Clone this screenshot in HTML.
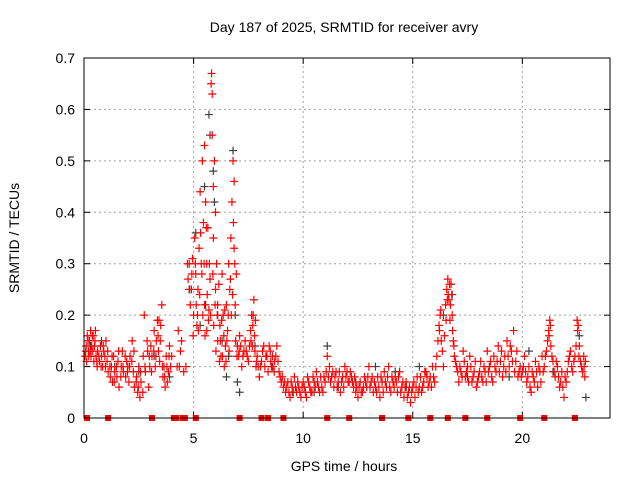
<!DOCTYPE html>
<html><head><meta charset="utf-8"><style>
body{margin:0;background:#fff}
svg{display:block;font-family:"Liberation Sans",sans-serif}
</style></head><body>
<svg id="chart" width="640" height="480" viewBox="0 0 640 480">
<rect width="640" height="480" fill="#fff"/>
<text x="344" y="32" font-size="14" text-anchor="middle">Day 187 of 2025, SRMTID for receiver avry</text>
<text transform="translate(19,238) rotate(-90)" font-size="14" text-anchor="middle">SRMTID / TECUs</text>
<text x="344" y="471" font-size="14" text-anchor="middle">GPS time / hours</text>
<g id="grid"></g>
<g id="ticks"></g>
<g id="gray"></g>
<g id="red"></g>
<g id="marks"></g>
<rect x="84" y="58" width="526" height="360" fill="none" stroke="#000" stroke-width="1"/>
</svg>
<script>
const xTicks=[0,5,10,15,20];
const yTicks=[0,0.1,0.2,0.3,0.4,0.5,0.6,0.7];
const yTickLabels=["0","0.1","0.2","0.3","0.4","0.5","0.6","0.7"];
const redData=[[0.05,0.12],[0.1,0.14],[0.12,0.11],[0.15,0.16],[0.2,0.13],[0.22,0.12],[0.25,0.15],[0.3,0.17],[0.32,0.12],[0.35,0.14],[0.4,0.13],[0.42,0.16],[0.45,0.11],[0.5,0.15],[0.55,0.12],[0.6,0.1],[0.62,0.13],[0.7,0.11],[0.75,0.14],[0.8,0.12],[0.85,0.1],[0.9,0.13],[0.95,0.12],[1.0,0.15],[1.05,0.11],[1.1,0.09],[1.2,0.08],[1.25,0.1],[1.3,0.07],[1.35,0.12],[1.4,0.09],[1.5,0.08],[1.55,0.11],[1.6,0.06],[1.7,0.1],[1.75,0.13],[1.8,0.09],[1.9,0.08],[1.95,0.11],[2.0,0.1],[2.05,0.07],[2.1,0.12],[2.2,0.15],[2.25,0.09],[2.3,0.06],[2.4,0.08],[2.45,0.05],[2.5,0.1],[2.55,0.04],[2.6,0.07],[2.7,0.12],[2.75,0.2],[2.8,0.09],[2.9,0.13],[2.95,0.06],[3.0,0.1],[3.05,0.14],[3.1,0.12],[3.2,0.17],[3.25,0.1],[3.3,0.15],[3.35,0.19],[3.4,0.13],[3.45,0.11],[3.5,0.18],[3.55,0.22],[3.6,0.08],[3.65,0.1],[3.7,0.06],[3.75,0.12],[3.8,0.07],[3.85,0.09],[3.9,0.14],[4.0,0.12],[4.3,0.17],[4.35,0.1],[4.4,0.13],[4.55,0.09],[4.65,0.1],[4.75,0.27],[4.8,0.3],[4.85,0.22],[4.9,0.25],[4.95,0.31],[5.0,0.2],[5.05,0.35],[5.1,0.28],[5.15,0.18],[5.2,0.25],[5.25,0.33],[5.3,0.44],[5.35,0.3],[5.4,0.5],[5.45,0.38],[5.5,0.22],[5.5,0.53],[5.55,0.42],[5.6,0.3],[5.6,0.17],[5.65,0.37],[5.7,0.21],[5.75,0.27],[5.8,0.65],[5.82,0.67],[5.85,0.63],[5.85,0.55],[5.9,0.45],[5.9,0.35],[5.95,0.5],[6.0,0.4],[6.0,0.25],[6.05,0.3],[6.1,0.15],[6.1,0.22],[6.2,0.18],[6.25,0.12],[6.3,0.28],[6.35,0.2],[6.4,0.1],[6.45,0.14],[6.5,0.22],[6.55,0.17],[6.6,0.3],[6.65,0.25],[6.7,0.35],[6.75,0.42],[6.8,0.5],[6.85,0.46],[6.85,0.33],[6.9,0.22],[6.95,0.28],[7.0,0.14],[7.05,0.12],[7.1,0.16],[7.2,0.1],[7.3,0.13],[7.35,0.15],[7.45,0.12],[7.55,0.14],[7.6,0.17],[7.65,0.2],[7.7,0.18],[7.75,0.23],[7.8,0.13],[7.85,0.1],[7.9,0.12],[8.0,0.08],[8.1,0.11],[8.2,0.14],[8.3,0.12],[8.4,0.09],[8.5,0.13],[8.55,0.1],[8.6,0.12],[8.7,0.11],[8.8,0.14],[8.9,0.09],[9.0,0.07],[9.1,0.06],[9.2,0.05],[9.3,0.07],[9.4,0.04],[9.5,0.06],[9.6,0.08],[9.7,0.05],[9.8,0.06],[9.9,0.04],[10.0,0.07],[10.1,0.05],[10.2,0.08],[10.3,0.06],[10.4,0.05],[10.5,0.07],[10.6,0.09],[10.7,0.06],[10.8,0.08],[10.9,0.05],[11.0,0.07],[11.1,0.12],[11.2,0.1],[11.3,0.08],[11.4,0.06],[11.5,0.09],[11.6,0.07],[11.7,0.05],[11.8,0.08],[11.9,0.1],[12.0,0.09],[12.1,0.07],[12.2,0.08],[12.3,0.06],[12.4,0.05],[12.5,0.04],[12.6,0.07],[12.7,0.05],[12.8,0.08],[12.9,0.06],[13.0,0.1],[13.1,0.07],[13.2,0.05],[13.3,0.06],[13.4,0.08],[13.5,0.04],[13.6,0.07],[13.7,0.09],[13.8,0.06],[13.9,0.1],[14.0,0.05],[14.1,0.07],[14.2,0.08],[14.3,0.05],[14.4,0.09],[14.5,0.06],[14.6,0.04],[14.7,0.07],[14.8,0.05],[14.9,0.03],[15.0,0.06],[15.1,0.04],[15.2,0.08],[15.3,0.06],[15.4,0.05],[15.5,0.07],[15.6,0.09],[15.7,0.06],[15.8,0.08],[15.9,0.1],[16.0,0.07],[16.1,0.12],[16.2,0.18],[16.25,0.2],[16.3,0.15],[16.4,0.1],[16.5,0.22],[16.55,0.25],[16.6,0.27],[16.65,0.23],[16.7,0.19],[16.75,0.26],[16.8,0.2],[16.85,0.15],[16.9,0.12],[17.0,0.1],[17.1,0.07],[17.2,0.09],[17.3,0.13],[17.4,0.08],[17.5,0.1],[17.6,0.12],[17.7,0.07],[17.8,0.09],[17.9,0.06],[18.0,0.08],[18.1,0.11],[18.2,0.07],[18.3,0.09],[18.4,0.13],[18.5,0.1],[18.6,0.08],[18.7,0.12],[18.8,0.09],[18.9,0.14],[19.0,0.11],[19.1,0.08],[19.2,0.12],[19.3,0.15],[19.4,0.1],[19.5,0.13],[19.6,0.17],[19.7,0.11],[19.8,0.08],[19.9,0.1],[20.0,0.09],[20.1,0.12],[20.2,0.07],[20.3,0.1],[20.4,0.05],[20.5,0.08],[20.6,0.11],[20.7,0.06],[20.8,0.09],[20.9,0.12],[21.0,0.1],[21.1,0.13],[21.2,0.17],[21.25,0.19],[21.3,0.14],[21.4,0.11],[21.5,0.08],[21.6,0.1],[21.7,0.06],[21.8,0.09],[21.9,0.04],[22.0,0.07],[22.1,0.11],[22.2,0.13],[22.3,0.09],[22.4,0.12],[22.5,0.19],[22.55,0.18],[22.6,0.14],[22.7,0.1],[22.8,0.12],[22.85,0.08]];
const redData2=[[0.08,0.13],[0.18,0.15],[0.28,0.13],[0.38,0.16],[0.48,0.14],[0.52,0.17],[0.58,0.11],[0.68,0.12],[0.78,0.1],[0.88,0.14],[0.98,0.1],[1.08,0.13],[1.18,0.1],[1.28,0.12],[1.38,0.07],[1.48,0.1],[1.58,0.13],[1.68,0.08],[1.78,0.1],[1.88,0.12],[1.98,0.09],[2.08,0.1],[2.18,0.11],[2.28,0.13],[2.38,0.07],[2.48,0.06],[2.58,0.09],[2.68,0.05],[2.78,0.1],[2.88,0.15],[2.98,0.12],[3.08,0.09],[3.18,0.13],[3.28,0.12],[3.38,0.16],[3.42,0.19],[3.48,0.15],[3.58,0.1],[3.68,0.08],[3.78,0.1],[3.88,0.12],[3.95,0.1],[4.25,0.1],[4.45,0.15],[4.72,0.3],[4.82,0.25],[4.92,0.28],[4.98,0.16],[5.08,0.3],[5.12,0.22],[5.18,0.2],[5.22,0.17],[5.28,0.24],[5.32,0.36],[5.38,0.28],[5.42,0.2],[5.48,0.3],[5.52,0.16],[5.58,0.37],[5.62,0.24],[5.68,0.19],[5.72,0.3],[5.78,0.2],[5.88,0.28],[5.92,0.18],[5.98,0.22],[6.02,0.13],[6.08,0.2],[6.15,0.26],[6.18,0.11],[6.22,0.15],[6.28,0.19],[6.32,0.12],[6.38,0.16],[6.42,0.21],[6.48,0.11],[6.52,0.15],[6.58,0.2],[6.62,0.13],[6.68,0.27],[6.72,0.2],[6.78,0.24],[6.82,0.38],[6.88,0.3],[6.92,0.15],[6.98,0.12],[7.08,0.13],[7.15,0.14],[7.25,0.12],[7.4,0.13],[7.5,0.11],[7.62,0.15],[7.68,0.14],[7.72,0.2],[7.78,0.16],[7.82,0.19],[7.88,0.11],[7.95,0.1],[8.05,0.1],[8.15,0.13],[8.25,0.1],[8.35,0.12],[8.45,0.14],[8.52,0.11],[8.62,0.1],[8.68,0.09],[8.75,0.12],[8.85,0.11],[8.95,0.08],[9.05,0.08],[9.15,0.07],[9.25,0.06],[9.35,0.05],[9.45,0.07],[9.55,0.05],[9.65,0.06],[9.75,0.07],[9.85,0.05],[9.95,0.06],[10.05,0.06],[10.15,0.04],[10.25,0.07],[10.35,0.05],[10.45,0.08],[10.55,0.06],[10.65,0.07],[10.75,0.05],[10.85,0.06],[10.95,0.08],[11.05,0.09],[11.15,0.08],[11.25,0.07],[11.35,0.09],[11.45,0.08],[11.55,0.06],[11.65,0.09],[11.75,0.07],[11.85,0.06],[11.95,0.08],[12.05,0.07],[12.15,0.09],[12.25,0.07],[12.35,0.08],[12.45,0.06],[12.55,0.06],[12.65,0.05],[12.75,0.06],[12.85,0.07],[12.95,0.08],[13.05,0.06],[13.15,0.08],[13.25,0.07],[13.35,0.05],[13.45,0.06],[13.55,0.08],[13.65,0.05],[13.75,0.07],[13.85,0.08],[13.95,0.06],[14.05,0.08],[14.15,0.06],[14.25,0.07],[14.35,0.08],[14.45,0.05],[14.55,0.07],[14.65,0.06],[14.75,0.04],[14.85,0.06],[14.95,0.05],[15.05,0.07],[15.15,0.06],[15.25,0.05],[15.35,0.08],[15.45,0.06],[15.55,0.09],[15.65,0.08],[15.75,0.07],[15.85,0.06],[15.95,0.08],[16.05,0.1],[16.15,0.15],[16.22,0.17],[16.28,0.21],[16.35,0.13],[16.45,0.16],[16.52,0.19],[16.58,0.23],[16.62,0.24],[16.68,0.26],[16.72,0.22],[16.78,0.24],[16.82,0.17],[16.88,0.14],[16.95,0.11],[17.05,0.09],[17.15,0.1],[17.25,0.08],[17.35,0.11],[17.45,0.09],[17.55,0.07],[17.65,0.1],[17.75,0.08],[17.85,0.11],[17.95,0.07],[18.05,0.09],[18.15,0.08],[18.25,0.1],[18.35,0.07],[18.45,0.09],[18.55,0.11],[18.65,0.07],[18.75,0.1],[18.85,0.11],[18.95,0.09],[19.05,0.13],[19.15,0.1],[19.25,0.09],[19.35,0.12],[19.45,0.14],[19.55,0.11],[19.65,0.09],[19.75,0.13],[19.85,0.09],[19.95,0.08],[20.05,0.1],[20.15,0.09],[20.25,0.08],[20.35,0.06],[20.45,0.09],[20.55,0.07],[20.65,0.09],[20.75,0.1],[20.85,0.07],[20.95,0.09],[21.05,0.12],[21.15,0.15],[21.22,0.16],[21.28,0.18],[21.35,0.12],[21.45,0.09],[21.55,0.11],[21.65,0.08],[21.75,0.07],[21.85,0.06],[21.95,0.08],[22.05,0.09],[22.15,0.12],[22.25,0.1],[22.35,0.11],[22.45,0.14],[22.52,0.17],[22.58,0.12],[22.65,0.11],[22.75,0.09],[22.82,0.1],[22.88,0.11]];
const grayData=[[0.3,0.14],[0.8,0.15],[1.4,0.1],[2.5,0.09],[3.2,0.12],[3.9,0.08],[4.8,0.25],[5.1,0.36],[5.3,0.18],[5.5,0.45],[5.55,0.22],[5.7,0.59],[5.75,0.55],[5.9,0.48],[5.95,0.42],[6.1,0.2],[6.3,0.15],[6.5,0.08],[6.6,0.12],[6.8,0.52],[6.9,0.2],[7.0,0.07],[7.1,0.05],[7.8,0.14],[8.6,0.1],[9.5,0.05],[10.5,0.05],[11.1,0.14],[11.6,0.06],[12.4,0.07],[13.3,0.1],[14.2,0.09],[14.7,0.06],[15.3,0.1],[16.4,0.2],[16.8,0.24],[17.5,0.08],[18.5,0.1],[19.4,0.08],[20.3,0.13],[21.4,0.09],[22.6,0.16],[22.9,0.04]];
const markT=[0.14,1.1,3.1,4.1,4.2,4.5,4.6,5.1,7.1,8.1,8.4,9.1,11.1,12.1,13.6,14.8,15.8,16.6,17.4,18.4,19.9,21.0,22.4];
const X0=84,X1=610,Y0=418,Y1=58,XMAX=24,YMAX=0.7;
const sx=t=>X0+(X1-X0)*t/XMAX, sy=v=>Y0-(Y0-Y1)*v/YMAX;
const NS="http://www.w3.org/2000/svg";
function mk(tag,parent,attrs){const e=document.createElementNS(NS,tag);for(const k in attrs)e.setAttribute(k,attrs[k]);parent.appendChild(e);return e;}
const grid=document.getElementById('grid'),ticks=document.getElementById('ticks');
xTicks.forEach(t=>{const x=sx(t);
 if(t>0){const l=mk('line',grid,{x1:x,x2:x,y1:Y0,y2:Y1,stroke:'#a0a0a0','stroke-dasharray':'2,3'});}
 const tk=mk('line',ticks,{x1:x,x2:x,y1:Y0,y2:Y0-6,stroke:'#000'});
 const tk2=mk('line',ticks,{x1:x,x2:x,y1:Y1,y2:Y1+6,stroke:'#000'});
 const tx=mk('text',ticks,{x:x,y:Y0+25,'font-size':14,'text-anchor':'middle'});tx.textContent=t;});
yTicks.forEach((v,i)=>{const y=sy(v);
 if(v>0&&v<YMAX){const l=mk('line',grid,{x1:X0,x2:X1,y1:y,y2:y,stroke:'#a0a0a0','stroke-dasharray':'2,3'});}
 const tk=mk('line',ticks,{x1:X0,x2:X0+6,y1:y,y2:y,stroke:'#000'});
 const tk2=mk('line',ticks,{x1:X1,x2:X1-6,y1:y,y2:y,stroke:'#000'});
 const tx=mk('text',ticks,{x:X0-9,y:y+5,'font-size':14,'text-anchor':'end'});tx.textContent=yTickLabels[i];});
function plus(g,t,v,c,name){const x=sx(t),y=sy(v);
 const p=mk('path',g,{d:`M${x-4},${y}H${x+4}M${x},${y-4}V${y+4}`,stroke:c,'stroke-width':1.2,fill:'none'});
 
 }
const gg=document.getElementById('gray'),rg=document.getElementById('red'),mg=document.getElementById('marks');
grayData.forEach(d=>plus(gg,d[0],d[1],'#404040','gray-point'));
redData.forEach(d=>plus(rg,d[0],d[1],'#ff0000','red-point'));
redData2.forEach(d=>plus(rg,d[0],d[1],'#ff0000','red-point'));
markT.forEach(t=>{const r=mk('rect',mg,{x:sx(t)-3,y:Y0-3,width:6,height:6,fill:'#ff0000'});
 
 });
</script>
</body></html>
